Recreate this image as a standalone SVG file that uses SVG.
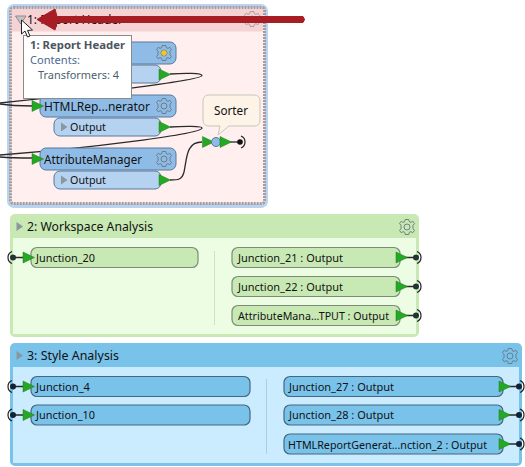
<svg xmlns="http://www.w3.org/2000/svg" width="525" height="467" viewBox="0 0 525 467">
<style>
text{font-family:"Noto Sans","DejaVu Sans",sans-serif;fill:#111}
.t{font-size:13px}
.n{font-size:13px}
.p{font-size:11.500px}
.wire{fill:none;stroke:#2b2b2b;stroke-width:1.300}
.tri{fill:#25a825;stroke:#1c7d1c;stroke-width:.5}
.blue{fill:#8fbce6;stroke:#56789c;stroke-width:1}
.lblue{fill:#b5d3f0;stroke:#56789c;stroke-width:1}
.g{fill:#c8e9b4;stroke:#7c8c78;stroke-width:1.200}
.b{fill:#79c2ea;stroke:#46677f;stroke-width:1.200}
.gear2{fill:none;stroke:#66757f;stroke-width:.9}
.ex{fill:#8a979f}
.term{fill:none;stroke:#222;stroke-width:1.200}
</style>
<defs>
<g id="gr"><path class="gear2" d="M-1.800-7.500H1.800L2.300-5.300L4-4.600L5.700-5.800L7.500-3.400L6-1.800V1.800L7.500 3.400L5.700 5.800L4 4.600L2.300 5.300L1.800 7.500H-1.800L-2.300 5.300L-4 4.600L-5.700 5.800L-7.500 3.400L-6 1.800V-1.800L-7.500-3.400L-5.700-5.800L-4-4.600L-2.300-5.300Z"/><circle r="3" class="gear2"/></g>
<path id="tr" class="tri" d="M0-5.500L11.500 0L0 5.500Z"/>
<path id="play" class="ex" d="M0-4.500L6.500 0L0 4.500Z"/>
</defs>

<g id="box1">
<rect x="7" y="4" width="261" height="204" rx="7" fill="#b9d4ef"/>
<rect x="10.500" y="7.500" width="254" height="196" rx="3" fill="#fff0ef" stroke="#a89a9d" stroke-width="3" stroke-dasharray="2 1"/>
<rect x="12" y="9" width="251" height="22.500" fill="#f5d2d4"/>
<path d="M15.500 16H26L20.700 24Z" fill="#c9c2c4" stroke="#8c8c8c"/>
<text class="t" x="27" y="24" textLength="96" lengthAdjust="spacingAndGlyphs">1: Report Header</text>
<use href="#gr" x="252" y="19" opacity=".6"/>
</g>

<g id="connectors">
<path class="wire" d="M170 74C185 73 202 73 202 75.500C202 80 100 93 0 103"/>
<path class="wire" d="M170 127C185 126 202 126 202 128C202 134 90 148 0 155"/>
<path class="wire" d="M0 104C12 106 20 106 33 106"/>
<path class="wire" d="M0 157C12 158 20 158 33 158"/>
<path class="wire" d="M170 180C178 180 182 180 184 172C187 158 186 142 202 142"/>
<path class="wire" d="M230 142H240"/>
</g>

<g id="node-top">
<rect class="blue" x="40" y="42" width="136" height="22" rx="6"/>
<use href="#gr" x="164" y="53"/>
<circle cx="164" cy="53" r="2.700" fill="#f2c81c"/>
<rect class="lblue" x="54" y="65" width="107" height="18" rx="6"/>
<use href="#tr" x="159" y="74.500"/>
</g>
<g id="node-html">
<rect class="blue" x="40" y="95" width="136" height="22" rx="6"/>
<text class="n" x="44" y="110.500" textLength="106" lengthAdjust="spacingAndGlyphs">HTMLRep...nerator</text>
<use href="#gr" x="164" y="106"/>
<use href="#tr" x="32" y="106"/>
<rect class="lblue" x="54" y="118" width="107" height="18" rx="6"/>
<use href="#play" x="61" y="127"/>
<text class="p" x="70" y="131" textLength="36" lengthAdjust="spacingAndGlyphs">Output</text>
<use href="#tr" x="159" y="127"/>
</g>
<g id="node-attr">
<rect class="blue" x="40" y="148" width="136" height="22" rx="6"/>
<text class="n" x="44" y="163.500" textLength="98" lengthAdjust="spacingAndGlyphs">AttributeManager</text>
<use href="#gr" x="164" y="159"/>
<use href="#tr" x="32" y="159"/>
<rect class="lblue" x="54" y="171" width="107" height="18" rx="6"/>
<use href="#play" x="61" y="180"/>
<text class="p" x="70" y="184" textLength="36" lengthAdjust="spacingAndGlyphs">Output</text>
<use href="#tr" x="159" y="180"/>
</g>
<g id="node-sorter">
<path d="M209 95H254Q260 95 260 101V120Q260 126 254 126H229L218 135L220 126H209Q203 126 203 120V101Q203 95 209 95Z" fill="#fdf3e7" stroke="#c9c6bb"/>
<text class="n" x="214" y="115" textLength="34" lengthAdjust="spacingAndGlyphs">Sorter</text>
<use href="#tr" x="202.500" y="142"/>
<circle cx="216" cy="142" r="4.500" fill="#8fbce6" stroke="#56789c"/>
<use href="#tr" x="220" y="142"/>
<circle cx="240" cy="142" r="2.800" fill="#111"/>
<path class="term" d="M241 136A6.500 6.500 0 0 1 241 148"/>
</g>

<g id="box2">
<rect x="10" y="214" width="409" height="123" rx="5" fill="#c8e9b4"/>
<rect x="13" y="238" width="403" height="96" fill="#ecfde3"/>
<use href="#play" x="16.500" y="226.500"/>
<text class="t" x="27" y="231" textLength="126" lengthAdjust="spacingAndGlyphs">2: Workspace Analysis</text>
<use href="#gr" x="407" y="227"/>
<path d="M214.500 251V325" stroke="#cfe3c4" fill="none"/>
<path class="wire" d="M14 257.500H26M400 257.500H416M400 286.500H416M400 315.500H416"/>
<circle cx="13" cy="257.500" r="3" fill="#233"/><path class="term" d="M12 251.500A6.500 6.500 0 0 0 12 263.500"/>
<rect class="g" x="31" y="247.500" width="167" height="20" rx="6"/>
<text class="p" x="36" y="262" textLength="59" lengthAdjust="spacingAndGlyphs">Junction_20</text>
<use href="#tr" x="23" y="257.500"/>
<rect class="g" x="232" y="247.500" width="168" height="20" rx="6"/>
<text class="p" x="238" y="262" textLength="105" lengthAdjust="spacingAndGlyphs">Junction_21 : Output</text>
<use href="#tr" x="396" y="257.500"/>
<rect class="g" x="232" y="276.500" width="168" height="20" rx="6"/>
<text class="p" x="238" y="291" textLength="105" lengthAdjust="spacingAndGlyphs">Junction_22 : Output</text>
<use href="#tr" x="396" y="286.500"/>
<rect class="g" x="232" y="305.500" width="168" height="20" rx="6"/>
<text class="p" x="238" y="319.500" textLength="151" lengthAdjust="spacingAndGlyphs">AttributeMana...TPUT : Output</text>
<use href="#tr" x="396" y="315.500"/>
<circle cx="416" cy="257.500" r="3" fill="#233"/><path class="term" d="M417 251.500A6.500 6.500 0 0 1 417 263.500"/>
<circle cx="416" cy="286.500" r="3" fill="#233"/><path class="term" d="M417 280.500A6.500 6.500 0 0 1 417 292.500"/>
<circle cx="416" cy="315.500" r="3" fill="#233"/><path class="term" d="M417 309.500A6.500 6.500 0 0 1 417 321.500"/>
</g>

<g id="box3">
<rect x="10" y="343" width="512" height="123" rx="5" fill="#79c2ea"/>
<rect x="13" y="367" width="506" height="96" fill="#cbebfe"/>
<use href="#play" x="16.500" y="355.500"/>
<text class="t" x="27" y="360" textLength="92" lengthAdjust="spacingAndGlyphs">3: Style Analysis</text>
<use href="#gr" x="510" y="356"/>
<path d="M266.500 379V454" stroke="#a9cfe6" fill="none"/>
<path class="wire" d="M14 386.500H26M14 415H26M503 386.500H519M503 415H519M503 444H519"/>
<circle cx="13" cy="386.500" r="3" fill="#123"/><path class="term" d="M12 380.500A6.500 6.500 0 0 0 12 392.500"/>
<circle cx="13" cy="415" r="3" fill="#123"/><path class="term" d="M12 409A6.500 6.500 0 0 0 12 421"/>
<rect class="b" x="31" y="376.500" width="219" height="20" rx="6"/>
<text class="p" x="36" y="391" textLength="54" lengthAdjust="spacingAndGlyphs">Junction_4</text>
<use href="#tr" x="23" y="386.500"/>
<rect class="b" x="31" y="405" width="219" height="20" rx="6"/>
<text class="p" x="36" y="419" textLength="59" lengthAdjust="spacingAndGlyphs">Junction_10</text>
<use href="#tr" x="23" y="415"/>
<rect class="b" x="284" y="376.500" width="219" height="20" rx="6"/>
<text class="p" x="289" y="391" textLength="105" lengthAdjust="spacingAndGlyphs">Junction_27 : Output</text>
<use href="#tr" x="499" y="386.500"/>
<rect class="b" x="284" y="405" width="219" height="20" rx="6"/>
<text class="p" x="289" y="419" textLength="105" lengthAdjust="spacingAndGlyphs">Junction_28 : Output</text>
<use href="#tr" x="499" y="415"/>
<rect class="b" x="284" y="434" width="219" height="20" rx="6"/>
<text class="p" x="288" y="448.500" textLength="199" lengthAdjust="spacingAndGlyphs">HTMLReportGenerat...nction_2 : Output</text>
<use href="#tr" x="499" y="444"/>
<circle cx="519" cy="386.500" r="3" fill="#123"/><path class="term" d="M520 380.500A6.500 6.500 0 0 1 520 392.500"/>
<circle cx="519" cy="415" r="3" fill="#123"/><path class="term" d="M520 409A6.500 6.500 0 0 1 520 421"/>
<circle cx="519" cy="444" r="3" fill="#123"/><path class="term" d="M520 438A6.500 6.500 0 0 1 520 450"/>
</g>

<g id="tooltip">
<rect x="23.500" y="35.500" width="108" height="63" fill="#fff" stroke="#8a8a8a"/>
<text x="30" y="49" font-size="11" font-weight="700" textLength="95" lengthAdjust="spacingAndGlyphs" style="fill:#4c5560">1: Report Header</text>
<text x="30" y="64" font-size="11" textLength="50" lengthAdjust="spacingAndGlyphs" style="fill:#4c6a90">Contents:</text>
<text x="38" y="79" font-size="11" textLength="81" lengthAdjust="spacingAndGlyphs" style="fill:#4c5f70">Transformers: 4</text>
</g>

<g id="annotation">
<path d="M303 16.500Q306 19.500 303 22.500H57L55 30L37 19.500L55 9L57 16.500Z" fill="#a81c24" stroke="#a81c24" stroke-width="1" stroke-linejoin="round"/>
</g>
<path id="cursor" d="M21.500 20V34L25 31L27.500 37L30 36L27.500 30.500L32.500 30Z" fill="#fff" stroke="#222"/>
</svg>
